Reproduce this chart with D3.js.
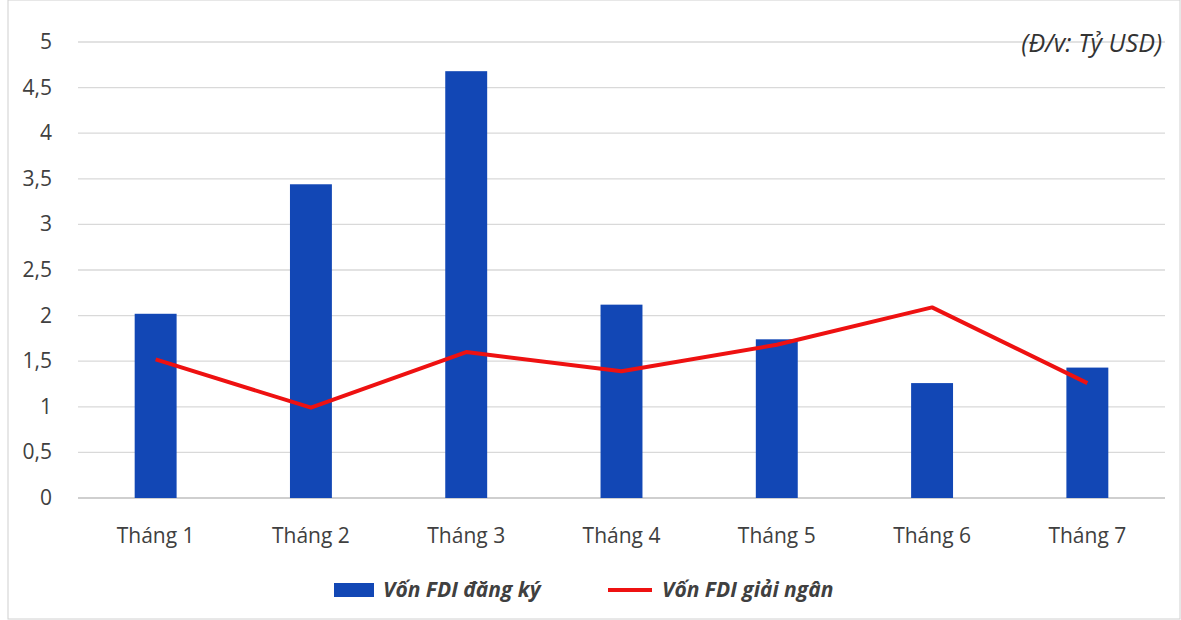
<!DOCTYPE html>
<html><head><meta charset="utf-8">
<script src="https://cdn.jsdelivr.net/npm/d3@7"></script>
<style>body{margin:0;background:#fff}text{font-family:"Open Sans",Roboto,sans-serif}</style>
</head><body><svg id="c" width="1181" height="620"></svg>
<script>
const months = ['Tháng 1','Tháng 2','Tháng 3','Tháng 4','Tháng 5','Tháng 6','Tháng 7']
const registered = [2.02, 3.44, 4.68, 2.12, 1.74, 1.26, 1.43]
const disbursed = [1.52, 0.99, 1.60, 1.39, 1.68, 2.09, 1.26]
const yTicks = [0, 0.5, 1, 1.5, 2, 2.5, 3, 3.5, 4, 4.5, 5]

const svg = d3.select('#c')
svg.append('rect').attr('x', 8).attr('y', 0).attr('width', 1172).attr('height', 619)
  .attr('fill', '#fff').attr('stroke', '#d0d0d0')

const x = d3.scaleBand().domain(months).range([78, 1165]).paddingInner(0.73).paddingOuter(0.365)
const y = d3.scaleLinear().domain([0, 5]).range([498, 42])

svg.append('g').selectAll('line').data(yTicks.slice(1)).join('line')
  .attr('x1', 78).attr('x2', 1165).attr('y1', d => y(d)).attr('y2', d => y(d))
  .attr('stroke', '#d9d9d9').attr('stroke-width', 1.3)
svg.append('line').attr('x1', 78).attr('x2', 1165).attr('y1', y(0)).attr('y2', y(0))
  .attr('stroke', '#bfbfbf').attr('stroke-width', 1.5)

svg.append('g').selectAll('text').data(yTicks).join('text')
  .attr('x', 52).attr('y', d => y(d) + 7).attr('text-anchor', 'end')
  .attr('font-size', 21).attr('fill', '#404040')
  .text(d => String(d).replace('.', ','))

svg.append('g').selectAll('text').data(months).join('text')
  .attr('x', d => x(d) + x.bandwidth() / 2).attr('y', 543).attr('text-anchor', 'middle')
  .attr('font-size', 21).attr('fill', '#404040').text(d => d)

svg.append('g').selectAll('rect').data(registered).join('rect')
  .attr('x', (d, i) => x(months[i])).attr('width', x.bandwidth())
  .attr('y', d => y(d)).attr('height', d => y(0) - y(d)).attr('fill', '#1247b5')

svg.append('path').datum(disbursed)
  .attr('d', d3.line().x((d, i) => x(months[i]) + x.bandwidth() / 2).y(d => y(d)))
  .attr('fill', 'none').attr('stroke', '#ee1111').attr('stroke-width', 4).attr('stroke-linejoin', 'round')

svg.append('text').attr('x', 1162).attr('y', 52).attr('text-anchor', 'end')
  .attr('font-size', 25).attr('font-style', 'italic').attr('fill', '#333').text('(Đ/v: Tỷ USD)')

const lg = svg.append('g').attr('font-size', 21).attr('font-style', 'italic').attr('font-weight', 'bold').attr('fill', '#404040')
lg.append('rect').attr('x', 334).attr('y', 583).attr('width', 40).attr('height', 14).attr('fill', '#1247b5')
lg.append('text').attr('x', 383).attr('y', 597).text('Vốn FDI đăng ký')
lg.append('line').attr('x1', 608).attr('x2', 652).attr('y1', 590).attr('y2', 590).attr('stroke', '#ee1111').attr('stroke-width', 4)
lg.append('text').attr('x', 662).attr('y', 597).text('Vốn FDI giải ngân')
</script></body></html>
